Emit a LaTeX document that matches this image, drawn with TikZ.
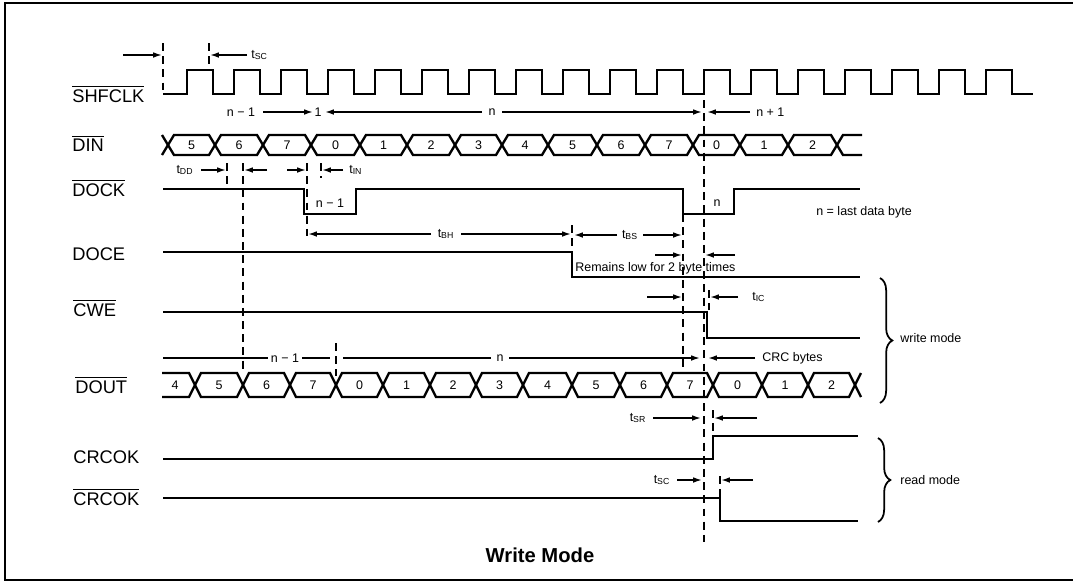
\documentclass[tikz,border=0pt]{standalone}
\usepackage{fontspec}
\setmainfont{Liberation Sans}
\usetikzlibrary{arrows.meta,decorations.pathreplacing}
\begin{document}
\begin{tikzpicture}[x=0.02cm, y=-0.02cm]
  % Stili per segnali, guide e quote
  \tikzset{
    sig/.style={line width=1.35pt, line join=miter},
    guida/.style={line width=1.1pt, dash pattern=on 4.5pt off 3pt},
    quota/.style={line width=0.9pt, -{Latex[length=5pt,width=3.2pt]}},
    etich/.style={anchor=west, inner sep=0pt, font=\fontsize{10.4}{12}\selectfont},
    picc/.style={inner sep=0pt, font=\fontsize{7.1}{8.5}\selectfont},
    graffa/.style={line width=1pt, decorate, decoration={brace, amplitude=7}},
  }
  \useasboundingbox (0,0) rectangle (1073,583);

  % Cornice
  \draw[line width=0.8pt] (1073,3) -- (5,3) -- (5,580) -- (1073,580);

  % Nomi dei segnali
  \node[etich] (lclk)  at (72,94)  {$\overline{\mbox{SHFCLK}}$};
  \node[etich] (ldin)  at (72,143) {$\overline{\mbox{DIN}}$};
  \node[etich] (ldock) at (72,188) {$\overline{\mbox{DOCK}}$};
  \node[etich] (ldoce) at (72,254) {DOCE};
  \node[etich] (lcwe)  at (73,308) {$\overline{\mbox{CWE}}$};
  \node[etich] (ldout) at (75,385) {$\overline{\mbox{DOUT}}$};
  \node[etich] (lok)   at (73,457) {CRCOK};
  \node[etich] (lnok)  at (73,497) {$\overline{\mbox{CRCOK}}$};

  % Clock
  \draw[sig] (163,94) \foreach \k in {0,...,17}{ -- ({187+47*\k},94) -- ({187+47*\k},70)
    -- ({213+47*\k},70) -- ({213+47*\k},94)} -- (1033,94);

  % Bus DIN
  \draw[sig] (162,135) -- (168,145) -- (162,155);
  \foreach \a/\b/\t in {168/215/5, 215/263/6, 263/311/7, 311/360/0, 360/407/1, 407/455/2,
      455/502/3, 502/548/4, 548/597/5, 597/645/6, 645/693/7, 693/740/0, 740/788/1, 788/837/2}{
    \draw[sig] (\a,145) -- (\a+6,135) -- (\b-6,135) -- (\b,145) -- (\b-6,155) -- (\a+6,155) -- cycle;
    \node[picc] at ({(\a+\b)/2},145) {\t};
  }
  \draw[sig] (837,145) -- (843,135) -- (862,135);
  \draw[sig] (837,145) -- (843,155) -- (862,155);

  % DOCK, DOCE, CWE
  \draw[sig] (163,189) -- (304,189) -- (304,214) -- (356,214) -- (356,189) -- (683,189)
    -- (683,214) -- (734,214) -- (734,189) -- (860,189);
  \node[picc] (dk1) at (330,203) {n − 1};
  \node[picc] (dk2) at (717,203) {n};
  \node[picc, anchor=west] (ult) at (816,212) {n = last data byte};
  \draw[sig] (163,252) -- (572,252) -- (572,277) -- (860,277);
  \node[picc, anchor=west] (resta) at (575,268) {Remains low for 2 byte times};
  \draw[sig] (163,312) -- (707,312) -- (707,338) -- (860,338);

  % Bus DOUT
  \draw[sig] (162,373) -- (189,373) -- (195,385) -- (189,397) -- (162,397);
  \node[picc] at (175,385) {4};
  \foreach \a/\b/\t in {195/243/5, 243/290/6, 290/336/7, 336/383/0, 383/430/1, 430/476/2,
      476/523/3, 523/572/4, 572/620/5, 620/667/6, 667/713/7, 713/762/0, 762/808/1, 808/855/2}{
    \draw[sig] (\a,385) -- (\a+6,373) -- (\b-6,373) -- (\b,385) -- (\b-6,397) -- (\a+6,397) -- cycle;
    \node[picc] at ({(\a+\b)/2},385) {\t};
  }
  \draw[sig] (861,373) -- (855,385) -- (861,397);

  % CRCOK
  \draw[sig] (163,459) -- (713,459) -- (713,436) -- (858,436);
  \draw[sig] (163,498) -- (720,498) -- (720,521) -- (858,521);

  % Linee di riferimento tratteggiate
  \draw[guida] (163,43) -- (163,90);
  \draw[guida] (209,43) -- (209,68);
  \draw[guida] (227,163) -- (227,187);
  \draw[guida] (243,163) -- (243,373);
  \draw[guida] (307,163) -- (307,236);
  \draw[guida] (321,163) -- (321,178);
  \draw[guida] (336,343) -- (336,376);
  \draw[guida] (572,225) -- (572,252);
  \draw[guida] (683,214) -- (683,367);
  \draw[guida] (704,100) -- (704,542);
  \draw[guida] (709,290) -- (709,310);
  \draw[guida] (713,410) -- (713,436);
  \draw[guida] (720,476) -- (720,498);

  % Quote: t_SC iniziale
  \draw[quota] (123,55) -- (162,55);
  \draw[quota] (247,55) -- (210,55);
  \node[picc, anchor=west] (tsc) at (251,55) {t\textsubscript{SC}};

  % Conteggio dei byte
  \node[picc] (nm1) at (241,112) {n − 1};
  \node[picc] (uno) at (318,112) {1};
  \node[picc] (enne) at (492,112) {n};
  \node[picc, anchor=west] (np1) at (756,112) {n + 1};
  \draw[quota] (263,112) -- (313,112);
  \draw[quota] (482,112) -- (325,112);
  \draw[quota] (502,112) -- (702,112);
  \draw[quota] (750,112) -- (707,112);

  % t_DD, t_IN
  \node[picc] (tdd) at (185,170) {t\textsubscript{DD}};
  \draw[quota] (201,170) -- (226,170);
  \draw[quota] (267,170) -- (244,170);
  \draw[quota] (287,170) -- (306,170);
  \draw[quota] (343,170) -- (322,170);
  \node[picc, anchor=west] (tin) at (349,170) {t\textsubscript{IN}};

  % t_BH, t_BS
  \draw[quota] (431,234) -- (308,234);
  \node[picc] (tbh) at (446,234) {t\textsubscript{BH}};
  \draw[quota] (461,234) -- (571,234);
  \draw[quota] (617,235) -- (574,235);
  \node[picc] (tbs) at (630,235) {t\textsubscript{BS}};
  \draw[quota] (643,235) -- (682,235);
  \draw[quota] (655,255) -- (682,255);
  \draw[quota] (735,255) -- (705,255);

  % t_IC
  \draw[quota] (647,297) -- (682,297);
  \draw[quota] (738,297) -- (710,297);
  \node[picc, anchor=west] (tic) at (752,297) {t\textsubscript{IC}};

  % Conteggio DOUT
  \draw[line width=0.9pt] (163,358) -- (268,358);
  \node[picc] (dn1) at (285,358) {n − 1};
  \draw[line width=0.9pt] (302,358) -- (330,358);
  \draw[line width=0.9pt] (343,358) -- (491,358);
  \node[picc] (dn) at (500,358) {n};
  \draw[quota] (509,358) -- (700,358);
  \draw[quota] (755,358) -- (708,358);
  \node[picc, anchor=west] (crc) at (762,358) {CRC bytes};

  % t_SR, t_SC finale
  \node[picc] (tsr) at (638,418) {t\textsubscript{SR}};
  \draw[quota] (653,418) -- (701,418);
  \draw[quota] (757,418) -- (714,418);
  \node[picc] (tsc2) at (662,480) {t\textsubscript{SC}};
  \draw[quota] (677,480) -- (702,480);
  \draw[quota] (753,480) -- (721,480);

  % Graffe
  \draw[graffa] (880,278) -- (880,403);
  \node[picc, anchor=west] (wm) at (900,338) {write mode};
  \draw[graffa] (878,438) -- (878,522);
  \node[picc, anchor=west] (rm) at (900,480) {read mode};

  % Titolo
  \node[font=\bfseries\fontsize{11.5}{13}\selectfont] (tit) at (540,555) {Write Mode};
\end{tikzpicture}
\end{document}
